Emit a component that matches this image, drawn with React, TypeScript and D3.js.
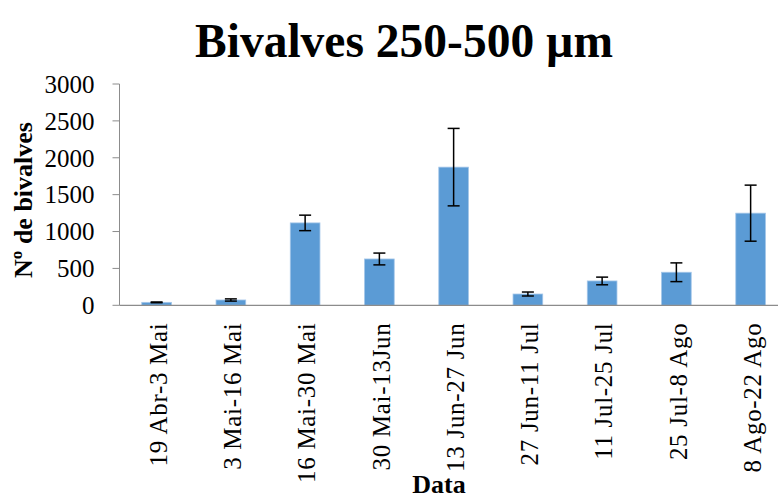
import React from "react";
import * as d3 from "d3";

const categories = [
  "19 Abr-3 Mai",
  "3 Mai-16 Mai",
  "16 Mai-30 Mai",
  "30 Mai-13Jun",
  "13 Jun-27 Jun",
  "27 Jun-11 Jul",
  "11 Jul-25 Jul",
  "25 Jul-8 Ago",
  "8 Ago-22 Ago",
];
const values = [40, 72, 1117, 628, 1873, 153, 330, 448, 1249];
const errors = [5, 15, 105, 80, 525, 27, 52, 127, 380];
const yTicks = [0, 500, 1000, 1500, 2000, 2500, 3000];

const W = 778;
const H = 498;
const FONT = "'Liberation Serif', 'Times New Roman', serif";

export default function App() {
  const x = d3
    .scaleBand<string>()
    .domain(categories)
    .range([119.5, 119.5 + 74.25 * 9])
    .paddingInner(0.6)
    .paddingOuter(0.3);
  const y = d3.scaleLinear().domain([0, 3000]).range([305.3, 84]);
  const axisColor = "#8c8c8c";
  const x0 = 119.5;

  return (
    <svg
      width={W}
      height={H}
      style={{ position: "absolute", left: 0, top: 0, background: "#fff" }}
      fontFamily={FONT}
    >
      <text
        x={404}
        y={57}
        textAnchor="middle"
        fontSize={47.5}
        fontWeight="bold"
        fill="#000"
      >
        Bivalves 250-500 µm
      </text>

      {/* y axis */}
      <line x1={x0} x2={x0} y1={y(3000)} y2={y(0)} stroke={axisColor} strokeWidth={1} />
      {yTicks.map((t) => (
        <g key={t}>
          <line x1={x0 - 7} x2={x0} y1={y(t)} y2={y(t)} stroke={axisColor} strokeWidth={1} />
          <text
            x={94.5}
            y={y(t)}
            dy="0.35em"
            textAnchor="end"
            fontSize={25}
            fill="#000"
          >
            {t}
          </text>
        </g>
      ))}

      {/* bars */}
      {categories.map((c, i) => (
        <rect
          key={c}
          x={x(c)!}
          y={y(values[i])}
          width={x.bandwidth()}
          height={y(0) - y(values[i])}
          fill="#5b9bd5"
          stroke="#a4c6e9"
          strokeWidth={0.8}
        />
      ))}

      {/* x axis */}
      <line x1={x0} x2={W + 20} y1={y(0)} y2={y(0)} stroke={axisColor} strokeWidth={1.2} />

      {/* error bars */}
      {categories.map((c, i) => {
        const cx = x(c)! + x.bandwidth() / 2;
        const top = y(values[i] + errors[i]);
        const bot = y(values[i] - errors[i]);
        return (
          <g key={c} stroke="#000" strokeWidth={1.5}>
            <line x1={cx} x2={cx} y1={top} y2={bot} />
            <line x1={cx - 6} x2={cx + 6} y1={top} y2={top} />
            <line x1={cx - 6} x2={cx + 6} y1={bot} y2={bot} />
          </g>
        );
      })}

      {/* x labels */}
      {categories.map((c) => {
        const cx = x(c)! + x.bandwidth() / 2 + 1.5;
        return (
          <text
            key={c}
            transform={`translate(${cx},322.5) rotate(-90)`}
            dy="0.35em"
            textAnchor="end"
            fontSize={25}
            letterSpacing={0.7}
            fill="#000"
          >
            {c}
          </text>
        );
      })}

      <text
        transform="translate(23,200) rotate(-90)"
        dy="0.35em"
        textAnchor="middle"
        fontSize={26}
        fontWeight="bold"
        fill="#000"
      >
        Nº de bivalves
      </text>
      <text x={439} y={493} textAnchor="middle" fontSize={26} fontWeight="bold" fill="#000">
        Data
      </text>
    </svg>
  );
}
